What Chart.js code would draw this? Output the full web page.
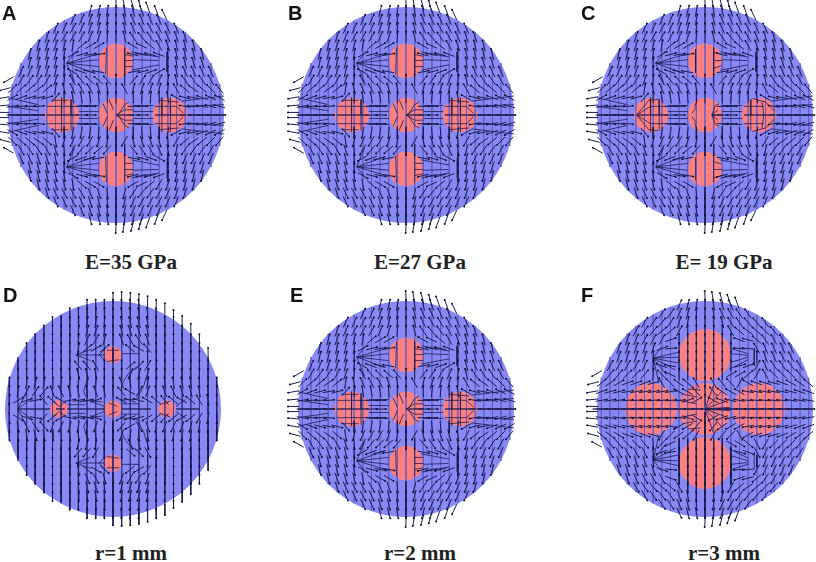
<!DOCTYPE html>
<html>
<head>
<meta charset="utf-8">
<script src="https://cdn.jsdelivr.net/npm/chart.js@4/dist/chart.umd.min.js"></script>
<style>
html, body { margin: 0; background: #fff; }
#page { position: relative; width: 816px; height: 562px; overflow: hidden; }
canvas { position: absolute; filter: blur(0.4px); }
.letter { position: absolute; font: bold 20px "Liberation Sans", sans-serif; color: #111; line-height: 1; }
.caption { position: absolute; font: bold 21px "Liberation Serif", serif; color: #222; line-height: 1; white-space: pre; transform: translate(-50%, -50%); }
</style>
</head>
<body>
<div id="page"></div>
<script>
const _ = null;

// all field values in mm, disc centre at 0,0
const panelLetters = ['A', 'B', 'C', 'D', 'E', 'F'];
const panelCaptions = ['E=35 GPa', 'E=27 GPa', 'E= 19 GPa', 'r=1 mm', 'r=2 mm', 'r=3 mm'];
const inclusionRadius = [2, 2, 2, 1, 2, 3];
const discRadius = 12.5;
const inclusionX = [0, -6.25, 0, 6.25, 0];
const inclusionY = [6.25, 0, 0, 0, -6.25];

// half length of the mesh line in column |x| = 0..12
const chordHalf = [12.5, 12.45, 12.3, 12.1, 11.8, 11.4, 10.9, 10.3, 9.6, 8.7, 7.5, 6, 3.6];

// arrow tilt in degrees from vertical, rows y = 12..0, columns x = -12..12 (lower half is the mirror)
const fieldMid = [
  [_,_,_,_,_,_,_,_,_, 15,15,10, 0, -10,-15,-20, _,_,_,_,_,_,_,_,_],
  [_,_,_,_,_,_,_, 25,25,20,15,10, 0, -15,-25,-25,-25,-25, _,_,_,_,_,_,_],
  [_,_,_,_,_, 25,25,30,25,20,15,5, 0, -15,-25,-30,-30,-30,-25,-25, _,_,_,_,_],
  [_,_,_,_, 20,25,30,30,30,25,20,5, 0, -15,-35,-40,-35,-30,-25,-20,-20, _,_,_,_],
  [_,_,_, 15,20,20,15,10,50,60,60,_, _, _,-60,-65,-50,-30,-20,-15,-15,-15, _,_,_],
  [_,_, 15,15,15,15,10,60,75,80,80,_, _, _,-75,-80,-75,-70,0,-15,-15,-15,-15, _,_],
  [_,_, 15,15,15,15,5,_,_,_,_,_, _, _,_,_,_,_,0,-10,-15,-20,-20, _,_],
  [_, 25,25,20,20,15,5,-60,-70,-75,-80,_, _, _,80,75,70,60,0,-15,-25,-25,-25,-25, _],
  [_, 30,35,35,30,20,5,-30,-40,-45,-50,-40, 0, 0,40,35,30,25,10,-15,-35,-35,-35,-30, _],
  [45,50,50,55,50,10,-15,-25,-30,-30,-20,-10, 0, -30,15,20,20,15,5,-30,-50,-55,-50,-45,-40],
  [60,70,75,80,75,40,0,-10,-10,-10,-5,0, 0, _,0,5,5,0,-10,-60,-75,-80,-70,-65,-60],
  [80,85,85,85,_,_,_,_,90,90,_,_, _, _,90,90,_,_,_,_,-80,-85,-80,-75,-75],
  [90,90,90,90,_,_,_,_,90,90,_,_, _, _,90,90,_,_,_,_,90,90,90,90,90]
];
const fieldThin = [
  [_,_,_,_,_,_,_,_,_, 0,0,0, 0, -3,-5,-5, _,_,_,_,_,_,_,_,_],
  [_,_,_,_,_,_,_, 0,0,3,3,3, 0, -5,-8,-8,-5,-3, _,_,_,_,_,_,_],
  [_,_,_,_,_, 0,0,0,3,8,10,5, 0, -10,-15,-15,-10,-5,-3,0, _,_,_,_,_],
  [_,_,_,_, 0,0,0,0,5,15,20,8, 0, -15,-20,-20,-15,-5,-3,0,0, _,_,_,_],
  [_,_,_, 0,0,0,0,3,5,25,30,15, 0, -20,-30,-35,-20,-5,0,0,0,0, _,_,_],
  [_,_, 0,0,0,0,0,0,10,50,60,50, _, _,-50,-60,-40,-3,0,0,0,0,0, _,_],
  [_,_, 0,0,0,0,0,0,0,_,_,_, _, _,_,_,0,0,0,0,0,0,0, _,_],
  [_, 0,0,0,0,0,0,0,-40,-40,-30,0, _, 0,50,45,30,5,0,0,0,0,0,0, _],
  [_, 0,0,0,0,0,-3,-5,-15,-15,-10,0, 0, 0,25,15,10,5,0,0,-5,-5,0,0, _],
  [3,5,10,15,10,5,5,5,5,5,5,0, 0, -20,-10,5,10,5,-5,-10,-10,-10,-5,0,0],
  [3,10,25,35,40,-20,-25,-15,-10,-5,-20,-10, 0, -40,-60,30,20,-10,-20,-25,-20,-15,-10,-5,0],
  [5,60,70,80,-40,-50,-60,80,80,80,70,_, _, -60,-70,-75,-60,-50,-40,-50,-60,-50,-30,-10,0],
  [0,_,_,_,_,_,_,_,_,_,_,_, _, _,_,_,_,_,_,_,_,_,_,0,0]
];
const fieldWide = [
  [_,_,_,_,_,_,_,_,_, 25,15,10, 0, -10,-20,-25, _,_,_,_,_,_,_,_,_],
  [_,_,_,_,_,_,_, 35,35,25,15,5, 0, -10,-25,-30,-35,-35, _,_,_,_,_,_,_],
  [_,_,_,_,_, 30,35,40,35,20,10,0, 0, -5,-15,-30,-35,-40,-40,-35, _,_,_,_,_],
  [_,_,_,_, 30,35,40,50,50,30,0,0, 0, 0,0,-30,-50,-55,-50,-45,-40, _,_,_,_],
  [_,_,_, 20,25,30,30,30,70,0,0,0, 0, 0,0,0,-70,-75,-50,-35,-30,-30, _,_,_],
  [_,_, 20,20,20,20,20,70,85,0,0,0, 0, 0,0,0,-85,-85,-30,-25,-25,-25,-25, _,_],
  [_,_, 20,20,20,20,5,_,_,0,0,0, 0, 0,0,0,_,_,0,-20,-25,-30,-30, _,_],
  [_, 30,30,30,30,25,5,-70,-80,0,0,0, 0, 0,0,0,75,70,30,-25,-35,-35,-35,-35, _],
  [_, 40,40,45,45,40,5,-45,-65,0,0,0, 0, 0,0,60,60,50,30,-30,-45,-45,-45,-40, _],
  [50,55,60,70,70,70,75,-30,-45,-55,-50,-30, 0, -30,-40,-45,30,-60,-70,-75,-75,-70,-60,-55,-50],
  [70,75,75,80,80,80,80,80,80,-60,-60,-40, 0, -40,-55,-60,-60,-80,-80,-80,-80,-80,-75,-70,-70],
  [80,80,80,85,85,85,85,85,85,85,70,60, 0, -60,-70,-75,-80,-85,-85,-85,-85,-85,-80,-80,-80],
  [90,90,90,90,90,90,90,90,90,90,90,90, _, 90,90,90,90,90,90,90,90,90,90,90,90]
];

// arrows sticking out of the disc: x, y, tilt
const stubsMid = [
  [0,13,-3], [0.9,12.9,-10], [1.9,12.8,-15], [2.8,12.6,-15], [3.7,12.4,-20], [4.7,12,-20], [5.6,11.6,-25],
  [-13,0.3,-90], [-13,1.1,-95], [-13,2,-100], [-12.8,3,-105], [-12.4,4.1,-120]
];
const stubsThin = [
  [0,12.8,0], [1,12.9,0], [2,12.8,0], [3,12.65,0], [4,12.4,0], [5,12,0], [6,11.6,0], [7,10.8,0], [8,10.1,0], [9,9.2,0], [10,8,0], [11,6.4,0]
];
const stubsWide = [
  [0,13,-3], [0.9,12.9,-10], [1.9,12.8,-15], [2.8,12.6,-20], [3.7,12.3,-20],
  [-13,0.3,-90], [-13,1.1,-95], [-13,2,-100], [-12.9,3,-105], [-12.5,4.1,-120]
];

// fans and bundles, upper half (mirrored below)
const linesMid = [
  [[-5.7,6],[-2,7.1]], [[-5.7,6],[-2,6.4]], [[-5.7,6],[-2,5.6]], [[-5.7,6],[-2.4,4.8]], [[-5.7,6],[-4.8,3.8]], [[-5.7,6],[-4.6,7.4]],
  [[2,6.4],[4.9,6.3]], [[1.8,7.3],[5,6.7]], [[1.8,5.2],[5,5.8]], [[5.9,7.3],[5.9,5]],
  [[-12.5,0],[-8.2,0]], [[-12.5,1],[-9,0.5]], [[-12.5,2],[-9,1.2]], [[8.3,0],[12.5,0]], [[8,1],[12.5,1.2]], [[7.6,1.6],[12.5,2.2]],
  [[2,0.4],[4.3,0.4]], [[2,1.1],[4.3,1.1]], [[-4.3,0.4],[-2,0.4]], [[-4.3,1.1],[-2,1.1]]
];
const linesThin = [
  [[-4.3,6.25],[-1,6.25]], [[-4.3,6.25],[-2.5,6.9]], [[-4.3,6.25],[-2.6,5.6]], [[-1.6,6.25],[-0.9,7]], [[-1.6,6.25],[-0.9,5.5]], [[1,6.4],[3,6.4]],
  [[0,7.1],[0,5.4]], [[-0.7,6.8],[0.7,6.8]], [[-0.7,5.5],[0.7,5.7]],
  [[-11,0],[-7.3,0]], [[-11,0],[-9.4,1.2]], [[-11,0],[-10,2]], [[-5.3,0],[-1,0]], [[-2.6,0.9],[-1,0.3]], [[-5.2,0.5],[-3.2,0.5]], [[1,0],[4.4,0]], [[1,0.6],[3,0.6]], [[7.3,0],[10,0]], [[7.3,0.3],[8.4,1.1]],
  [[-7,0.9],[-6.2,0.3],[-5.6,0.8]], [[-6.6,0],[-5.6,0]], [[-0.5,0.7],[0.5,0.3]], [[5.4,0.5],[6.6,0.9]],
  [[0.85,1],[2.8,1.2],[3.6,2.8],[3.9,3.9]], [[0.9,2.2],[1.2,3.2],[1.8,4.1],[2.8,4.9]], [[-4,0.8],[-2.6,1],[-1.2,0.8]], [[-3,3.4],[-3.4,2],[-3,1.2]]
];
const linesWide = [
  [[-6,5.9],[-2.9,6.6]], [[-6,5.9],[-2.9,6]], [[-6,5.9],[-3,5.3]], [[-6,5.9],[-3.4,4.5]], [[-6,5.9],[-4.4,3.9]], [[-6,5.9],[-5.4,3.3]], [[-6,5.9],[-5,7.2]],
  [[3,6.4],[5,6.2]], [[3,7],[5,6.4]], [[3,5.4],[5,6]], [[2.8,4.6],[5,5.7]], [[5.7,7],[5.7,5]],
  [[-13,0],[0,0]], [[0,0],[12.5,0]],
  [[0,0],[2.9,0.2]], [[0,0],[2.7,1]], [[0,0],[2,2.1]], [[0,0],[1,2.8]], [[-3,1],[-1,0.6]], [[-2.6,1.7],[-0.9,1.4]], [[-2,2.3],[-0.5,2.2]]
];

// lines inside the inclusions at r = 2
const innerStiff = [
  [[-1.1,7.8],[-1.2,4.7]], [[1,7.8],[1,4.7]], [[1,7],[2,6.8]], [[1,6.3],[2,6.3]], [[1,5.6],[2,5.6]],
  [[0,0],[1,0.6],[2,0.6]], [[0,0],[2,0]], [[0.3,0.1],[1,1.2],[1.5,1.5]], [[-1.5,1.3],[-1,0.2]], [[-0.8,1.8],[-0.3,0.6]],
  [[-8,0],[-4.3,0]], [[-8,1],[-4.3,1]], [[-7.5,1.7],[-5.5,1.7]], [[-6.3,2],[-6.3,0]], [[-5.2,1.8],[-5.2,0]],
  [[4.5,0],[8,0]], [[4.5,1],[7,1]], [[5,1.7],[7.3,1.5]], [[7,1],[7.8,0.2]], [[5.3,2],[5.3,0]], [[6.3,2],[6.3,0]]
];
const innerSoft = [
  [[1,7.8],[1,4.7]], [[1,6.3],[2,6.3]], [[1,7.3],[1.9,7]], [[1,5.4],[1.9,5.7]], [[-1.1,7.6],[-1.1,4.9]],
  [[0.8,0],[2,0]], [[0.8,0],[1.2,1.1],[1.6,1.3]], [[0.8,0],[1.5,0.6]], [[-1.2,0.9],[-0.9,1.8]], [[-1.5,0.2],[-1,0.9]],
  [[-7.9,0],[-4.3,0]], [[-7.9,0],[-6.3,1],[-4.4,1]], [[-7.9,0],[-6.5,1.7],[-5.4,1.8]], [[-6.3,2],[-6.3,0]], [[-5.3,1.8],[-5.3,0]],
  [[4.5,0],[8,0]], [[4.5,1],[6.8,1]], [[5.5,1.9],[7,1.5],[8,0.5]], [[6.6,1.5],[6.8,0]], [[5.3,1.8],[5.3,0]]
];

const panelField = [fieldMid, fieldMid, fieldMid, fieldThin, fieldMid, fieldWide];
const panelStubs = [stubsMid, stubsMid, stubsMid, stubsThin, stubsMid, stubsWide];
const panelLines = [linesMid, linesMid, linesMid, linesThin, linesMid, linesWide];
const panelInner = [innerStiff, innerStiff, innerSoft, [], innerStiff, []];

const ARROW_LEN = 1.3;
const CANVAS_SIZE = 242;
const AXIS_LIMIT = 14;

// pixel layout of the picture
const panelCentre = [[116,115], [406,115], [705,115], [113,409], [406,409], [705,409]];
const letterPos = [[2,3], [288,3], [581,3], [3,285], [290,285], [581,285]];
const captionPos = [[131,262], [420,262], [724,262], [131,553], [420,553], [724,553]];

const GAP = { x: NaN, y: NaN };

function arrowPoints(x, y, angle, mirrored) {
    const a = angle * Math.PI / 180;
    const dx = Math.sin(a) * ARROW_LEN / 2;
    const dy = Math.cos(a) * ARROW_LEN / 2;
    const s = mirrored ? -1 : 1;
    return [{ x: x - dx, y: s * (y - dy) }, { x: x + dx, y: s * (y + dy) }, GAP];
}

function buildArrows(field, stubs) {
    let pts = [];
    field.forEach((row, r) => {
        const y = 12 - r;
        row.forEach((angle, c) => {
            if (angle === null) return;
            pts = pts.concat(arrowPoints(c - 12, y, angle, false));
            if (y !== 0) pts = pts.concat(arrowPoints(c - 12, y, angle, true));
        });
    });
    stubs.forEach(s => {
        pts = pts.concat(arrowPoints(s[0], s[1], s[2], false));
        pts = pts.concat(arrowPoints(s[0], s[1], s[2], true));
    });
    return pts;
}

function buildLines(lines) {
    const pts = [];
    lines.forEach(line => {
        line.forEach(p => pts.push({ x: p[0], y: p[1] }));
        pts.push(GAP);
        line.forEach(p => pts.push({ x: p[0], y: -p[1] }));
        pts.push(GAP);
    });
    return pts;
}

function buildChords() {
    const pts = [];
    chordHalf.forEach((h, i) => {
        pts.push({ x: i, y: h }, { x: i, y: -h }, GAP);
        if (i > 0) pts.push({ x: -i, y: h }, { x: -i, y: -h }, GAP);
    });
    return pts;
}

function mmRadius(ctx, mm) {
    const sx = ctx.chart.scales.x;
    return Math.abs(sx.getPixelForValue(mm) - sx.getPixelForValue(0));
}

function drawPanel(i) {
    const page = document.getElementById('page');
    const canvas = document.createElement('canvas');
    canvas.width = CANVAS_SIZE;
    canvas.height = CANVAS_SIZE;
    canvas.style.left = (panelCentre[i][0] - CANVAS_SIZE / 2) + 'px';
    canvas.style.top = (panelCentre[i][1] - CANVAS_SIZE / 2) + 'px';
    page.appendChild(canvas);

    const inclusions = inclusionX.map((x, k) => ({ x: x, y: inclusionY[k] }));
    const thin = i === 3;

    new Chart(canvas.getContext('2d'), {
        type: 'scatter',
        data: {
            datasets: [
                {
                    label: 'disc',
                    data: [{ x: 0, y: 0 }],
                    order: 5,
                    pointBackgroundColor: '#8989f6',
                    pointBorderWidth: 0,
                    pointRadius: ctx => mmRadius(ctx, discRadius)
                },
                {
                    label: 'inclusions',
                    data: inclusions,
                    order: 4,
                    pointBackgroundColor: '#fc8080',
                    pointBorderWidth: 0,
                    pointRadius: ctx => mmRadius(ctx, inclusionRadius[i])
                },
                {
                    label: 'mesh',
                    data: buildChords(),
                    order: 3,
                    showLine: true,
                    borderColor: thin ? '#3a3a90' : '#5c5cc4',
                    borderWidth: thin ? 0.9 : 0.7,
                    pointRadius: 0
                },
                {
                    label: 'arrows',
                    data: buildArrows(panelField[i], panelStubs[i]),
                    order: 2,
                    showLine: true,
                    borderColor: '#1c1c50',
                    borderWidth: 1,
                    pointRadius: ctx => ctx.dataIndex % 3 === 1 ? 1 : 0,
                    pointBackgroundColor: '#111128',
                    pointBorderWidth: 0
                },
                {
                    label: 'lines',
                    data: buildLines(panelLines[i].concat(panelInner[i])),
                    order: 1,
                    showLine: true,
                    borderColor: '#1c1c50',
                    borderWidth: 0.8,
                    pointRadius: 0
                }
            ]
        },
        options: {
            responsive: false,
            animation: false,
            layout: { padding: 0 },
            plugins: { legend: { display: false }, tooltip: { enabled: false } },
            scales: {
                x: { display: false, min: -AXIS_LIMIT, max: AXIS_LIMIT },
                y: { display: false, min: -AXIS_LIMIT, max: AXIS_LIMIT }
            }
        }
    });

    const letter = document.createElement('div');
    letter.className = 'letter';
    letter.innerText = panelLetters[i];
    letter.style.left = letterPos[i][0] + 'px';
    letter.style.top = letterPos[i][1] + 'px';
    page.appendChild(letter);

    const caption = document.createElement('div');
    caption.className = 'caption';
    caption.innerText = panelCaptions[i];
    caption.style.left = captionPos[i][0] + 'px';
    caption.style.top = captionPos[i][1] + 'px';
    page.appendChild(caption);
}

panelLetters.forEach((l, i) => drawPanel(i));
</script>
</body>
</html>
